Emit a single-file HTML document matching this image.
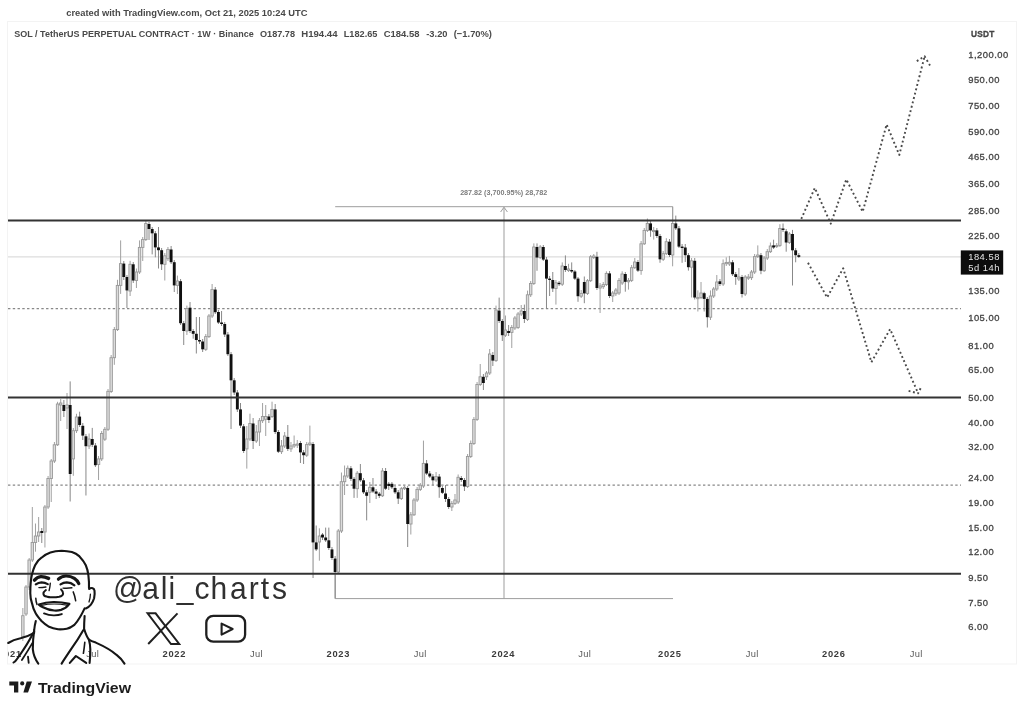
<!DOCTYPE html>
<html><head><meta charset="utf-8"><style>
html,body{margin:0;padding:0;width:1024px;height:710px;overflow:hidden;background:#fff;}
svg{position:absolute;left:0;top:0;display:block;}
text{font-family:"Liberation Sans",sans-serif;}
svg{will-change:transform;filter:blur(0.35px);}
</style></head><body>
<svg width="1024" height="710" viewBox="0 0 1024 710">
<defs><clipPath id="plot"><rect x="8" y="22" width="953" height="621"/></clipPath>
<clipPath id="taxis"><rect x="8" y="643" width="953" height="20"/></clipPath></defs>

<text x="66.2" y="15.8" font-size="9.4" font-weight="bold" fill="#484848" textLength="241.3" lengthAdjust="spacingAndGlyphs">created with TradingView.com, Oct 21, 2025 10:24 UTC</text>
<rect x="7.5" y="21.5" width="1009" height="642.5" fill="none" stroke="#f3f3f3" stroke-width="1"/>
<g font-size="9.6" font-weight="bold" fill="#4a4a4a">
<text x="14.25" y="37.1" textLength="239.5" lengthAdjust="spacingAndGlyphs">SOL / TetherUS PERPETUAL CONTRACT · 1W · Binance</text>
<text x="260" y="37.1" textLength="35" lengthAdjust="spacingAndGlyphs">O187.78</text>
<text x="301.25" y="37.1" textLength="36.25" lengthAdjust="spacingAndGlyphs">H194.44</text>
<text x="343.75" y="37.1" textLength="33.75" lengthAdjust="spacingAndGlyphs">L182.65</text>
<text x="383.75" y="37.1" textLength="35.75" lengthAdjust="spacingAndGlyphs">C184.58</text>
<text x="426.25" y="37.1" textLength="21.25" lengthAdjust="spacingAndGlyphs">-3.20</text>
<text x="453.75" y="37.1" textLength="38.25" lengthAdjust="spacingAndGlyphs">(−1.70%)</text>
</g>
<g clip-path="url(#plot)">
<line x1="8" y1="256.9" x2="961" y2="256.9" stroke="#d4d4d4" stroke-width="1"/>
<line x1="8" y1="308.6" x2="961" y2="308.6" stroke="#888" stroke-width="1.2" stroke-dasharray="2.4 2.36"/>
<line x1="8" y1="485.2" x2="961" y2="485.2" stroke="#888" stroke-width="1.2" stroke-dasharray="2.4 2.36"/>
<path d="M335.2 206.7 H672.7 V222 M335.2 575 V598.6 H673 M504 598.6 V207.5 M500.6 212 L504 207.2 L507.4 212" fill="none" stroke="#9d9d9d" stroke-width="1"/>
<text x="503.7" y="195.4" font-size="7.2" font-weight="bold" fill="#7c7c7c" text-anchor="middle">287.82 (3,700.95%) 28,782</text>
<line x1="22.85" y1="608.0" x2="22.85" y2="641.0" stroke="#a0a0a0" stroke-width="1"/>
<rect x="21.65" y="615.7" width="2.4" height="21.3" fill="#dcdcdc" stroke="#989898" stroke-width="0.9"/>
<line x1="26.01" y1="585.0" x2="26.01" y2="616.0" stroke="#a0a0a0" stroke-width="1"/>
<rect x="24.81" y="587.0" width="2.4" height="27.0" fill="#dcdcdc" stroke="#989898" stroke-width="0.9"/>
<line x1="29.16" y1="558.0" x2="29.16" y2="590.0" stroke="#a0a0a0" stroke-width="1"/>
<rect x="27.96" y="560.0" width="2.4" height="27.0" fill="#dcdcdc" stroke="#989898" stroke-width="0.9"/>
<line x1="32.32" y1="507.0" x2="32.32" y2="562.0" stroke="#a0a0a0" stroke-width="1"/>
<rect x="31.12" y="542.5" width="2.4" height="17.5" fill="#dcdcdc" stroke="#989898" stroke-width="0.9"/>
<line x1="35.47" y1="523.5" x2="35.47" y2="551.7" stroke="#a0a0a0" stroke-width="1"/>
<rect x="34.27" y="536.0" width="2.4" height="6.5" fill="#dcdcdc" stroke="#989898" stroke-width="0.9"/>
<line x1="38.63" y1="517.0" x2="38.63" y2="542.0" stroke="#a0a0a0" stroke-width="1"/>
<rect x="37.43" y="532.0" width="2.4" height="4.0" fill="#dcdcdc" stroke="#989898" stroke-width="0.9"/>
<line x1="41.78" y1="528.0" x2="41.78" y2="543.0" stroke="#888" stroke-width="1"/>
<rect x="40.33" y="531.0" width="2.90" height="2.0" fill="#101010"/>
<line x1="44.93" y1="505.0" x2="44.93" y2="547.5" stroke="#a0a0a0" stroke-width="1"/>
<rect x="43.73" y="507.0" width="2.4" height="25.0" fill="#dcdcdc" stroke="#989898" stroke-width="0.9"/>
<line x1="48.09" y1="476.0" x2="48.09" y2="509.0" stroke="#a0a0a0" stroke-width="1"/>
<rect x="46.89" y="478.5" width="2.4" height="28.5" fill="#dcdcdc" stroke="#989898" stroke-width="0.9"/>
<line x1="51.24" y1="459.0" x2="51.24" y2="502.0" stroke="#a0a0a0" stroke-width="1"/>
<rect x="50.04" y="461.0" width="2.4" height="17.5" fill="#dcdcdc" stroke="#989898" stroke-width="0.9"/>
<line x1="54.40" y1="442.0" x2="54.40" y2="463.0" stroke="#a0a0a0" stroke-width="1"/>
<rect x="53.20" y="444.8" width="2.4" height="16.2" fill="#dcdcdc" stroke="#989898" stroke-width="0.9"/>
<line x1="57.55" y1="401.8" x2="57.55" y2="446.0" stroke="#a0a0a0" stroke-width="1"/>
<rect x="56.35" y="404.0" width="2.4" height="40.8" fill="#dcdcdc" stroke="#989898" stroke-width="0.9"/>
<line x1="60.71" y1="399.0" x2="60.71" y2="421.0" stroke="#a0a0a0" stroke-width="1"/>
<rect x="59.51" y="403.0" width="2.4" height="2.0" fill="#dcdcdc" stroke="#989898" stroke-width="0.9"/>
<line x1="63.86" y1="400.0" x2="63.86" y2="417.0" stroke="#888" stroke-width="1"/>
<rect x="62.41" y="405.0" width="2.90" height="6.0" fill="#101010"/>
<line x1="67.01" y1="393.0" x2="67.01" y2="429.0" stroke="#a0a0a0" stroke-width="1"/>
<rect x="65.81" y="405.0" width="2.4" height="3.0" fill="#dcdcdc" stroke="#989898" stroke-width="0.9"/>
<line x1="70.17" y1="381.4" x2="70.17" y2="501.5" stroke="#888" stroke-width="1"/>
<rect x="68.72" y="405.0" width="2.90" height="69.0" fill="#101010"/>
<line x1="73.32" y1="428.0" x2="73.32" y2="475.8" stroke="#a0a0a0" stroke-width="1"/>
<rect x="72.12" y="430.7" width="2.4" height="28.2" fill="#dcdcdc" stroke="#989898" stroke-width="0.9"/>
<line x1="76.48" y1="413.8" x2="76.48" y2="433.0" stroke="#a0a0a0" stroke-width="1"/>
<rect x="75.28" y="417.0" width="2.4" height="13.7" fill="#dcdcdc" stroke="#989898" stroke-width="0.9"/>
<line x1="79.63" y1="411.7" x2="79.63" y2="427.0" stroke="#888" stroke-width="1"/>
<rect x="78.18" y="416.6" width="2.90" height="8.4" fill="#101010"/>
<line x1="82.79" y1="423.0" x2="82.79" y2="440.0" stroke="#888" stroke-width="1"/>
<rect x="81.34" y="425.8" width="2.90" height="9.8" fill="#101010"/>
<line x1="85.94" y1="434.0" x2="85.94" y2="495.5" stroke="#888" stroke-width="1"/>
<rect x="84.49" y="436.3" width="2.90" height="9.9" fill="#101010"/>
<line x1="89.09" y1="433.5" x2="89.09" y2="449.0" stroke="#a0a0a0" stroke-width="1"/>
<rect x="87.89" y="439.0" width="2.4" height="7.0" fill="#dcdcdc" stroke="#989898" stroke-width="0.9"/>
<line x1="92.25" y1="427.9" x2="92.25" y2="447.0" stroke="#888" stroke-width="1"/>
<rect x="90.80" y="439.0" width="2.90" height="5.8" fill="#101010"/>
<line x1="95.40" y1="443.0" x2="95.40" y2="467.0" stroke="#888" stroke-width="1"/>
<rect x="93.95" y="445.5" width="2.90" height="19.7" fill="#101010"/>
<line x1="98.56" y1="456.0" x2="98.56" y2="480.0" stroke="#a0a0a0" stroke-width="1"/>
<rect x="97.36" y="458.9" width="2.4" height="5.6" fill="#dcdcdc" stroke="#989898" stroke-width="0.9"/>
<line x1="101.71" y1="431.0" x2="101.71" y2="461.0" stroke="#a0a0a0" stroke-width="1"/>
<rect x="100.51" y="433.5" width="2.4" height="25.4" fill="#dcdcdc" stroke="#989898" stroke-width="0.9"/>
<line x1="104.87" y1="427.0" x2="104.87" y2="441.0" stroke="#a0a0a0" stroke-width="1"/>
<rect x="103.67" y="429.3" width="2.4" height="9.9" fill="#dcdcdc" stroke="#989898" stroke-width="0.9"/>
<line x1="108.02" y1="389.0" x2="108.02" y2="431.0" stroke="#a0a0a0" stroke-width="1"/>
<rect x="106.82" y="391.3" width="2.4" height="38.0" fill="#dcdcdc" stroke="#989898" stroke-width="0.9"/>
<line x1="111.17" y1="355.0" x2="111.17" y2="393.0" stroke="#a0a0a0" stroke-width="1"/>
<rect x="109.97" y="357.7" width="2.4" height="33.8" fill="#dcdcdc" stroke="#989898" stroke-width="0.9"/>
<line x1="114.33" y1="327.0" x2="114.33" y2="364.8" stroke="#a0a0a0" stroke-width="1"/>
<rect x="113.13" y="329.6" width="2.4" height="28.1" fill="#dcdcdc" stroke="#989898" stroke-width="0.9"/>
<line x1="117.48" y1="279.8" x2="117.48" y2="331.0" stroke="#a0a0a0" stroke-width="1"/>
<rect x="116.28" y="285.4" width="2.4" height="44.2" fill="#dcdcdc" stroke="#989898" stroke-width="0.9"/>
<line x1="120.64" y1="240.4" x2="120.64" y2="293.9" stroke="#a0a0a0" stroke-width="1"/>
<rect x="119.44" y="263.6" width="2.4" height="21.8" fill="#dcdcdc" stroke="#989898" stroke-width="0.9"/>
<line x1="123.79" y1="261.0" x2="123.79" y2="280.0" stroke="#888" stroke-width="1"/>
<rect x="122.34" y="263.6" width="2.90" height="13.4" fill="#101010"/>
<line x1="126.95" y1="275.0" x2="126.95" y2="308.0" stroke="#888" stroke-width="1"/>
<rect x="125.50" y="277.0" width="2.90" height="13.4" fill="#101010"/>
<line x1="130.10" y1="260.8" x2="130.10" y2="296.0" stroke="#a0a0a0" stroke-width="1"/>
<rect x="128.90" y="264.3" width="2.4" height="26.7" fill="#dcdcdc" stroke="#989898" stroke-width="0.9"/>
<line x1="133.25" y1="262.0" x2="133.25" y2="283.0" stroke="#888" stroke-width="1"/>
<rect x="131.80" y="264.3" width="2.90" height="16.2" fill="#101010"/>
<line x1="136.41" y1="268.5" x2="136.41" y2="288.0" stroke="#a0a0a0" stroke-width="1"/>
<rect x="135.21" y="272.0" width="2.4" height="8.5" fill="#dcdcdc" stroke="#989898" stroke-width="0.9"/>
<line x1="139.56" y1="240.4" x2="139.56" y2="274.0" stroke="#a0a0a0" stroke-width="1"/>
<rect x="138.36" y="247.4" width="2.4" height="24.6" fill="#dcdcdc" stroke="#989898" stroke-width="0.9"/>
<line x1="142.72" y1="237.0" x2="142.72" y2="261.0" stroke="#a0a0a0" stroke-width="1"/>
<rect x="141.52" y="239.6" width="2.4" height="7.8" fill="#dcdcdc" stroke="#989898" stroke-width="0.9"/>
<line x1="145.87" y1="220.6" x2="145.87" y2="241.0" stroke="#a0a0a0" stroke-width="1"/>
<rect x="144.67" y="223.5" width="2.4" height="16.1" fill="#dcdcdc" stroke="#989898" stroke-width="0.9"/>
<line x1="149.03" y1="222.0" x2="149.03" y2="240.0" stroke="#888" stroke-width="1"/>
<rect x="147.58" y="224.0" width="2.90" height="5.0" fill="#101010"/>
<line x1="152.18" y1="227.0" x2="152.18" y2="254.4" stroke="#888" stroke-width="1"/>
<rect x="150.73" y="229.0" width="2.90" height="4.3" fill="#101010"/>
<line x1="155.33" y1="231.0" x2="155.33" y2="257.3" stroke="#888" stroke-width="1"/>
<rect x="153.88" y="233.3" width="2.90" height="14.1" fill="#101010"/>
<line x1="158.49" y1="227.0" x2="158.49" y2="268.5" stroke="#888" stroke-width="1"/>
<rect x="157.04" y="247.4" width="2.90" height="2.8" fill="#101010"/>
<line x1="161.64" y1="248.0" x2="161.64" y2="270.0" stroke="#888" stroke-width="1"/>
<rect x="160.19" y="250.2" width="2.90" height="14.1" fill="#101010"/>
<line x1="164.80" y1="253.0" x2="164.80" y2="280.5" stroke="#a0a0a0" stroke-width="1"/>
<rect x="163.60" y="255.8" width="2.4" height="8.5" fill="#dcdcdc" stroke="#989898" stroke-width="0.9"/>
<line x1="167.95" y1="247.0" x2="167.95" y2="261.0" stroke="#a0a0a0" stroke-width="1"/>
<rect x="166.75" y="249.5" width="2.4" height="9.2" fill="#dcdcdc" stroke="#989898" stroke-width="0.9"/>
<line x1="171.11" y1="246.0" x2="171.11" y2="264.0" stroke="#888" stroke-width="1"/>
<rect x="169.66" y="249.5" width="2.90" height="12.7" fill="#101010"/>
<line x1="174.26" y1="260.0" x2="174.26" y2="292.0" stroke="#888" stroke-width="1"/>
<rect x="172.81" y="262.2" width="2.90" height="23.2" fill="#101010"/>
<line x1="177.41" y1="275.6" x2="177.41" y2="294.0" stroke="#a0a0a0" stroke-width="1"/>
<rect x="176.21" y="281.0" width="2.4" height="4.4" fill="#dcdcdc" stroke="#989898" stroke-width="0.9"/>
<line x1="180.57" y1="279.0" x2="180.57" y2="325.0" stroke="#888" stroke-width="1"/>
<rect x="179.12" y="281.2" width="2.90" height="42.0" fill="#101010"/>
<line x1="183.72" y1="321.0" x2="183.72" y2="345.0" stroke="#888" stroke-width="1"/>
<rect x="182.27" y="323.2" width="2.90" height="7.8" fill="#101010"/>
<line x1="186.88" y1="305.6" x2="186.88" y2="335.0" stroke="#a0a0a0" stroke-width="1"/>
<rect x="185.68" y="308.5" width="2.4" height="22.5" fill="#dcdcdc" stroke="#989898" stroke-width="0.9"/>
<line x1="190.03" y1="302.0" x2="190.03" y2="333.0" stroke="#888" stroke-width="1"/>
<rect x="188.58" y="307.7" width="2.90" height="23.3" fill="#101010"/>
<line x1="193.19" y1="329.0" x2="193.19" y2="338.7" stroke="#888" stroke-width="1"/>
<rect x="191.74" y="331.0" width="2.90" height="2.8" fill="#101010"/>
<line x1="196.34" y1="317.0" x2="196.34" y2="353.5" stroke="#888" stroke-width="1"/>
<rect x="194.89" y="333.8" width="2.90" height="6.2" fill="#101010"/>
<line x1="199.49" y1="317.0" x2="199.49" y2="344.0" stroke="#888" stroke-width="1"/>
<rect x="198.04" y="340.0" width="2.90" height="1.5" fill="#101010"/>
<line x1="202.65" y1="339.0" x2="202.65" y2="352.0" stroke="#888" stroke-width="1"/>
<rect x="201.20" y="341.5" width="2.90" height="7.8" fill="#101010"/>
<line x1="205.80" y1="334.0" x2="205.80" y2="351.0" stroke="#a0a0a0" stroke-width="1"/>
<rect x="204.60" y="336.6" width="2.4" height="12.7" fill="#dcdcdc" stroke="#989898" stroke-width="0.9"/>
<line x1="208.96" y1="314.0" x2="208.96" y2="338.0" stroke="#a0a0a0" stroke-width="1"/>
<rect x="207.76" y="316.0" width="2.4" height="20.6" fill="#dcdcdc" stroke="#989898" stroke-width="0.9"/>
<line x1="212.11" y1="284.0" x2="212.11" y2="318.0" stroke="#a0a0a0" stroke-width="1"/>
<rect x="210.91" y="289.6" width="2.4" height="26.4" fill="#dcdcdc" stroke="#989898" stroke-width="0.9"/>
<line x1="215.27" y1="287.0" x2="215.27" y2="314.0" stroke="#888" stroke-width="1"/>
<rect x="213.82" y="289.6" width="2.90" height="22.6" fill="#101010"/>
<line x1="218.42" y1="310.0" x2="218.42" y2="324.0" stroke="#888" stroke-width="1"/>
<rect x="216.97" y="312.0" width="2.90" height="10.5" fill="#101010"/>
<line x1="221.57" y1="311.0" x2="221.57" y2="326.0" stroke="#888" stroke-width="1"/>
<rect x="220.12" y="322.5" width="2.90" height="1.5" fill="#101010"/>
<line x1="224.73" y1="322.0" x2="224.73" y2="337.0" stroke="#888" stroke-width="1"/>
<rect x="223.28" y="324.0" width="2.90" height="10.5" fill="#101010"/>
<line x1="227.88" y1="332.0" x2="227.88" y2="356.0" stroke="#888" stroke-width="1"/>
<rect x="226.43" y="334.5" width="2.90" height="19.7" fill="#101010"/>
<line x1="231.04" y1="352.0" x2="231.04" y2="429.0" stroke="#888" stroke-width="1"/>
<rect x="229.59" y="354.2" width="2.90" height="26.1" fill="#101010"/>
<line x1="234.19" y1="378.0" x2="234.19" y2="395.0" stroke="#888" stroke-width="1"/>
<rect x="232.74" y="380.3" width="2.90" height="12.2" fill="#101010"/>
<line x1="237.35" y1="390.0" x2="237.35" y2="412.0" stroke="#888" stroke-width="1"/>
<rect x="235.90" y="392.5" width="2.90" height="16.9" fill="#101010"/>
<line x1="240.50" y1="403.0" x2="240.50" y2="428.0" stroke="#888" stroke-width="1"/>
<rect x="239.05" y="409.4" width="2.90" height="16.2" fill="#101010"/>
<line x1="243.65" y1="424.0" x2="243.65" y2="453.0" stroke="#888" stroke-width="1"/>
<rect x="242.20" y="426.3" width="2.90" height="24.7" fill="#101010"/>
<line x1="246.81" y1="426.0" x2="246.81" y2="468.6" stroke="#a0a0a0" stroke-width="1"/>
<rect x="245.61" y="439.0" width="2.4" height="9.9" fill="#dcdcdc" stroke="#989898" stroke-width="0.9"/>
<line x1="249.96" y1="413.7" x2="249.96" y2="441.0" stroke="#a0a0a0" stroke-width="1"/>
<rect x="248.76" y="423.5" width="2.4" height="15.5" fill="#dcdcdc" stroke="#989898" stroke-width="0.9"/>
<line x1="253.12" y1="418.0" x2="253.12" y2="449.0" stroke="#888" stroke-width="1"/>
<rect x="251.67" y="423.5" width="2.90" height="17.5" fill="#101010"/>
<line x1="256.27" y1="425.0" x2="256.27" y2="443.0" stroke="#a0a0a0" stroke-width="1"/>
<rect x="255.07" y="432.0" width="2.4" height="9.0" fill="#dcdcdc" stroke="#989898" stroke-width="0.9"/>
<line x1="259.43" y1="418.0" x2="259.43" y2="446.0" stroke="#a0a0a0" stroke-width="1"/>
<rect x="258.23" y="420.7" width="2.4" height="11.3" fill="#dcdcdc" stroke="#989898" stroke-width="0.9"/>
<line x1="262.58" y1="403.0" x2="262.58" y2="423.0" stroke="#a0a0a0" stroke-width="1"/>
<rect x="261.38" y="416.5" width="2.4" height="4.2" fill="#dcdcdc" stroke="#989898" stroke-width="0.9"/>
<line x1="265.73" y1="405.0" x2="265.73" y2="436.0" stroke="#a0a0a0" stroke-width="1"/>
<rect x="264.53" y="416.5" width="2.4" height="2.8" fill="#dcdcdc" stroke="#989898" stroke-width="0.9"/>
<line x1="268.89" y1="414.0" x2="268.89" y2="423.0" stroke="#888" stroke-width="1"/>
<rect x="267.44" y="416.5" width="2.90" height="3.5" fill="#101010"/>
<line x1="272.04" y1="401.7" x2="272.04" y2="418.0" stroke="#a0a0a0" stroke-width="1"/>
<rect x="270.84" y="409.4" width="2.4" height="7.1" fill="#dcdcdc" stroke="#989898" stroke-width="0.9"/>
<line x1="275.20" y1="404.0" x2="275.20" y2="434.0" stroke="#888" stroke-width="1"/>
<rect x="273.75" y="409.4" width="2.90" height="22.6" fill="#101010"/>
<line x1="278.35" y1="430.0" x2="278.35" y2="453.0" stroke="#888" stroke-width="1"/>
<rect x="276.90" y="432.0" width="2.90" height="19.7" fill="#101010"/>
<line x1="281.51" y1="440.0" x2="281.51" y2="454.0" stroke="#a0a0a0" stroke-width="1"/>
<rect x="280.31" y="446.0" width="2.4" height="5.7" fill="#dcdcdc" stroke="#989898" stroke-width="0.9"/>
<line x1="284.66" y1="432.0" x2="284.66" y2="448.0" stroke="#a0a0a0" stroke-width="1"/>
<rect x="283.46" y="436.0" width="2.4" height="10.0" fill="#dcdcdc" stroke="#989898" stroke-width="0.9"/>
<line x1="287.81" y1="425.0" x2="287.81" y2="451.0" stroke="#888" stroke-width="1"/>
<rect x="286.36" y="436.9" width="2.90" height="12.0" fill="#101010"/>
<line x1="290.97" y1="442.0" x2="290.97" y2="452.0" stroke="#a0a0a0" stroke-width="1"/>
<rect x="289.77" y="446.0" width="2.4" height="2.9" fill="#dcdcdc" stroke="#989898" stroke-width="0.9"/>
<line x1="294.12" y1="435.5" x2="294.12" y2="448.0" stroke="#a0a0a0" stroke-width="1"/>
<rect x="292.92" y="444.6" width="2.4" height="1.4" fill="#dcdcdc" stroke="#989898" stroke-width="0.9"/>
<line x1="297.28" y1="440.0" x2="297.28" y2="448.0" stroke="#a0a0a0" stroke-width="1"/>
<rect x="296.08" y="444.0" width="2.4" height="1.2" fill="#dcdcdc" stroke="#989898" stroke-width="0.9"/>
<line x1="300.43" y1="441.0" x2="300.43" y2="463.0" stroke="#888" stroke-width="1"/>
<rect x="298.98" y="443.0" width="2.90" height="9.4" fill="#101010"/>
<line x1="303.59" y1="450.0" x2="303.59" y2="464.0" stroke="#888" stroke-width="1"/>
<rect x="302.14" y="452.4" width="2.90" height="2.8" fill="#101010"/>
<line x1="306.74" y1="442.0" x2="306.74" y2="457.0" stroke="#a0a0a0" stroke-width="1"/>
<rect x="305.54" y="444.6" width="2.4" height="10.6" fill="#dcdcdc" stroke="#989898" stroke-width="0.9"/>
<line x1="309.89" y1="425.6" x2="309.89" y2="446.0" stroke="#a0a0a0" stroke-width="1"/>
<rect x="308.69" y="443.0" width="2.4" height="1.6" fill="#dcdcdc" stroke="#989898" stroke-width="0.9"/>
<line x1="313.05" y1="442.0" x2="313.05" y2="578.0" stroke="#888" stroke-width="1"/>
<rect x="311.60" y="444.0" width="2.90" height="98.4" fill="#101010"/>
<line x1="316.20" y1="525.5" x2="316.20" y2="551.0" stroke="#888" stroke-width="1"/>
<rect x="314.75" y="542.4" width="2.90" height="7.0" fill="#101010"/>
<line x1="319.36" y1="528.3" x2="319.36" y2="560.7" stroke="#a0a0a0" stroke-width="1"/>
<rect x="318.16" y="536.0" width="2.4" height="6.0" fill="#dcdcdc" stroke="#989898" stroke-width="0.9"/>
<line x1="322.51" y1="533.0" x2="322.51" y2="540.0" stroke="#888" stroke-width="1"/>
<rect x="321.06" y="534.6" width="2.90" height="2.9" fill="#101010"/>
<line x1="325.67" y1="527.6" x2="325.67" y2="542.0" stroke="#888" stroke-width="1"/>
<rect x="324.22" y="537.5" width="2.90" height="2.8" fill="#101010"/>
<line x1="328.82" y1="527.6" x2="328.82" y2="550.0" stroke="#888" stroke-width="1"/>
<rect x="327.37" y="540.3" width="2.90" height="7.7" fill="#101010"/>
<line x1="331.98" y1="547.0" x2="331.98" y2="560.0" stroke="#888" stroke-width="1"/>
<rect x="330.53" y="549.4" width="2.90" height="8.6" fill="#101010"/>
<line x1="335.13" y1="556.0" x2="335.13" y2="598.6" stroke="#888" stroke-width="1"/>
<rect x="333.68" y="558.6" width="2.90" height="13.4" fill="#101010"/>
<line x1="338.28" y1="529.0" x2="338.28" y2="574.0" stroke="#a0a0a0" stroke-width="1"/>
<rect x="337.08" y="531.0" width="2.4" height="41.0" fill="#dcdcdc" stroke="#989898" stroke-width="0.9"/>
<line x1="341.44" y1="472.5" x2="341.44" y2="533.0" stroke="#a0a0a0" stroke-width="1"/>
<rect x="340.24" y="481.7" width="2.4" height="49.3" fill="#dcdcdc" stroke="#989898" stroke-width="0.9"/>
<line x1="344.59" y1="465.5" x2="344.59" y2="495.0" stroke="#a0a0a0" stroke-width="1"/>
<rect x="343.39" y="476.0" width="2.4" height="5.7" fill="#dcdcdc" stroke="#989898" stroke-width="0.9"/>
<line x1="347.75" y1="465.5" x2="347.75" y2="478.0" stroke="#a0a0a0" stroke-width="1"/>
<rect x="346.55" y="468.3" width="2.4" height="7.7" fill="#dcdcdc" stroke="#989898" stroke-width="0.9"/>
<line x1="350.90" y1="466.0" x2="350.90" y2="481.0" stroke="#888" stroke-width="1"/>
<rect x="349.45" y="468.3" width="2.90" height="10.6" fill="#101010"/>
<line x1="354.06" y1="477.0" x2="354.06" y2="497.9" stroke="#888" stroke-width="1"/>
<rect x="352.61" y="478.9" width="2.90" height="9.8" fill="#101010"/>
<line x1="357.21" y1="471.0" x2="357.21" y2="497.9" stroke="#a0a0a0" stroke-width="1"/>
<rect x="356.01" y="473.2" width="2.4" height="15.5" fill="#dcdcdc" stroke="#989898" stroke-width="0.9"/>
<line x1="360.36" y1="464.0" x2="360.36" y2="482.0" stroke="#888" stroke-width="1"/>
<rect x="358.91" y="473.2" width="2.90" height="7.1" fill="#101010"/>
<line x1="363.52" y1="478.0" x2="363.52" y2="494.0" stroke="#888" stroke-width="1"/>
<rect x="362.07" y="480.3" width="2.90" height="12.0" fill="#101010"/>
<line x1="366.67" y1="490.0" x2="366.67" y2="520.4" stroke="#888" stroke-width="1"/>
<rect x="365.22" y="492.3" width="2.90" height="3.5" fill="#101010"/>
<line x1="369.83" y1="482.0" x2="369.83" y2="503.0" stroke="#a0a0a0" stroke-width="1"/>
<rect x="368.63" y="487.3" width="2.4" height="5.0" fill="#dcdcdc" stroke="#989898" stroke-width="0.9"/>
<line x1="372.98" y1="478.0" x2="372.98" y2="493.0" stroke="#888" stroke-width="1"/>
<rect x="371.53" y="487.3" width="2.90" height="4.2" fill="#101010"/>
<line x1="376.14" y1="489.0" x2="376.14" y2="499.0" stroke="#888" stroke-width="1"/>
<rect x="374.69" y="491.5" width="2.90" height="2.2" fill="#101010"/>
<line x1="379.29" y1="492.0" x2="379.29" y2="498.0" stroke="#888" stroke-width="1"/>
<rect x="377.84" y="493.7" width="2.90" height="2.1" fill="#101010"/>
<line x1="382.44" y1="468.0" x2="382.44" y2="497.0" stroke="#a0a0a0" stroke-width="1"/>
<rect x="381.24" y="471.0" width="2.4" height="24.8" fill="#dcdcdc" stroke="#989898" stroke-width="0.9"/>
<line x1="385.60" y1="468.0" x2="385.60" y2="490.0" stroke="#888" stroke-width="1"/>
<rect x="384.15" y="471.0" width="2.90" height="17.7" fill="#101010"/>
<line x1="388.75" y1="482.0" x2="388.75" y2="490.0" stroke="#888" stroke-width="1"/>
<rect x="387.30" y="483.8" width="2.90" height="2.2" fill="#101010"/>
<line x1="391.91" y1="482.0" x2="391.91" y2="489.0" stroke="#888" stroke-width="1"/>
<rect x="390.46" y="483.8" width="2.90" height="3.5" fill="#101010"/>
<line x1="395.06" y1="486.0" x2="395.06" y2="494.0" stroke="#888" stroke-width="1"/>
<rect x="393.61" y="488.0" width="2.90" height="4.3" fill="#101010"/>
<line x1="398.22" y1="490.0" x2="398.22" y2="504.0" stroke="#888" stroke-width="1"/>
<rect x="396.77" y="492.3" width="2.90" height="6.3" fill="#101010"/>
<line x1="401.37" y1="487.0" x2="401.37" y2="500.0" stroke="#a0a0a0" stroke-width="1"/>
<rect x="400.17" y="488.7" width="2.4" height="9.9" fill="#dcdcdc" stroke="#989898" stroke-width="0.9"/>
<line x1="404.52" y1="485.0" x2="404.52" y2="490.0" stroke="#a0a0a0" stroke-width="1"/>
<rect x="403.32" y="487.3" width="2.4" height="1.4" fill="#dcdcdc" stroke="#989898" stroke-width="0.9"/>
<line x1="407.68" y1="486.0" x2="407.68" y2="547.0" stroke="#888" stroke-width="1"/>
<rect x="406.23" y="488.0" width="2.90" height="36.0" fill="#101010"/>
<line x1="410.83" y1="512.0" x2="410.83" y2="534.5" stroke="#a0a0a0" stroke-width="1"/>
<rect x="409.63" y="514.8" width="2.4" height="9.2" fill="#dcdcdc" stroke="#989898" stroke-width="0.9"/>
<line x1="413.99" y1="498.0" x2="413.99" y2="516.0" stroke="#a0a0a0" stroke-width="1"/>
<rect x="412.79" y="500.0" width="2.4" height="14.8" fill="#dcdcdc" stroke="#989898" stroke-width="0.9"/>
<line x1="417.14" y1="487.0" x2="417.14" y2="502.0" stroke="#a0a0a0" stroke-width="1"/>
<rect x="415.94" y="489.4" width="2.4" height="10.6" fill="#dcdcdc" stroke="#989898" stroke-width="0.9"/>
<line x1="420.30" y1="483.0" x2="420.30" y2="491.0" stroke="#a0a0a0" stroke-width="1"/>
<rect x="419.10" y="485.2" width="2.4" height="4.2" fill="#dcdcdc" stroke="#989898" stroke-width="0.9"/>
<line x1="423.45" y1="440.6" x2="423.45" y2="488.0" stroke="#a0a0a0" stroke-width="1"/>
<rect x="422.25" y="463.4" width="2.4" height="22.6" fill="#dcdcdc" stroke="#989898" stroke-width="0.9"/>
<line x1="426.60" y1="460.0" x2="426.60" y2="475.0" stroke="#888" stroke-width="1"/>
<rect x="425.15" y="463.4" width="2.90" height="10.1" fill="#101010"/>
<line x1="429.76" y1="471.0" x2="429.76" y2="478.0" stroke="#888" stroke-width="1"/>
<rect x="428.31" y="473.5" width="2.90" height="3.0" fill="#101010"/>
<line x1="432.91" y1="474.0" x2="432.91" y2="485.0" stroke="#888" stroke-width="1"/>
<rect x="431.46" y="476.5" width="2.90" height="3.8" fill="#101010"/>
<line x1="436.07" y1="472.0" x2="436.07" y2="482.0" stroke="#a0a0a0" stroke-width="1"/>
<rect x="434.87" y="476.6" width="2.4" height="3.4" fill="#dcdcdc" stroke="#989898" stroke-width="0.9"/>
<line x1="439.22" y1="474.0" x2="439.22" y2="497.8" stroke="#888" stroke-width="1"/>
<rect x="437.77" y="476.6" width="2.90" height="10.6" fill="#101010"/>
<line x1="442.38" y1="486.0" x2="442.38" y2="494.0" stroke="#888" stroke-width="1"/>
<rect x="440.93" y="488.0" width="2.90" height="4.8" fill="#101010"/>
<line x1="445.53" y1="485.0" x2="445.53" y2="502.0" stroke="#888" stroke-width="1"/>
<rect x="444.08" y="493.5" width="2.90" height="5.5" fill="#101010"/>
<line x1="448.68" y1="497.0" x2="448.68" y2="509.0" stroke="#888" stroke-width="1"/>
<rect x="447.23" y="499.0" width="2.90" height="8.0" fill="#101010"/>
<line x1="451.84" y1="501.0" x2="451.84" y2="511.0" stroke="#a0a0a0" stroke-width="1"/>
<rect x="450.64" y="503.4" width="2.4" height="3.6" fill="#dcdcdc" stroke="#989898" stroke-width="0.9"/>
<line x1="454.99" y1="494.0" x2="454.99" y2="505.0" stroke="#a0a0a0" stroke-width="1"/>
<rect x="453.79" y="500.0" width="2.4" height="3.4" fill="#dcdcdc" stroke="#989898" stroke-width="0.9"/>
<line x1="458.15" y1="474.5" x2="458.15" y2="504.0" stroke="#a0a0a0" stroke-width="1"/>
<rect x="456.95" y="477.3" width="2.4" height="24.7" fill="#dcdcdc" stroke="#989898" stroke-width="0.9"/>
<line x1="461.30" y1="476.0" x2="461.30" y2="482.0" stroke="#888" stroke-width="1"/>
<rect x="459.85" y="478.0" width="2.90" height="2.0" fill="#101010"/>
<line x1="464.46" y1="478.0" x2="464.46" y2="491.0" stroke="#888" stroke-width="1"/>
<rect x="463.01" y="480.0" width="2.90" height="6.5" fill="#101010"/>
<line x1="467.61" y1="454.0" x2="467.61" y2="488.0" stroke="#a0a0a0" stroke-width="1"/>
<rect x="466.41" y="456.5" width="2.4" height="30.0" fill="#dcdcdc" stroke="#989898" stroke-width="0.9"/>
<line x1="470.76" y1="440.5" x2="470.76" y2="458.0" stroke="#a0a0a0" stroke-width="1"/>
<rect x="469.56" y="443.5" width="2.4" height="13.0" fill="#dcdcdc" stroke="#989898" stroke-width="0.9"/>
<line x1="473.92" y1="417.0" x2="473.92" y2="445.0" stroke="#a0a0a0" stroke-width="1"/>
<rect x="472.72" y="419.4" width="2.4" height="24.1" fill="#dcdcdc" stroke="#989898" stroke-width="0.9"/>
<line x1="477.07" y1="382.0" x2="477.07" y2="421.0" stroke="#a0a0a0" stroke-width="1"/>
<rect x="475.87" y="384.5" width="2.4" height="34.9" fill="#dcdcdc" stroke="#989898" stroke-width="0.9"/>
<line x1="480.23" y1="364.0" x2="480.23" y2="386.0" stroke="#a0a0a0" stroke-width="1"/>
<rect x="479.03" y="376.8" width="2.4" height="7.7" fill="#dcdcdc" stroke="#989898" stroke-width="0.9"/>
<line x1="483.38" y1="374.0" x2="483.38" y2="390.0" stroke="#888" stroke-width="1"/>
<rect x="481.93" y="376.8" width="2.90" height="6.2" fill="#101010"/>
<line x1="486.54" y1="371.0" x2="486.54" y2="380.0" stroke="#a0a0a0" stroke-width="1"/>
<rect x="485.34" y="373.0" width="2.4" height="3.8" fill="#dcdcdc" stroke="#989898" stroke-width="0.9"/>
<line x1="489.69" y1="349.0" x2="489.69" y2="375.0" stroke="#a0a0a0" stroke-width="1"/>
<rect x="488.49" y="354.0" width="2.4" height="19.0" fill="#dcdcdc" stroke="#989898" stroke-width="0.9"/>
<line x1="492.84" y1="352.0" x2="492.84" y2="366.0" stroke="#888" stroke-width="1"/>
<rect x="491.39" y="355.0" width="2.90" height="5.6" fill="#101010"/>
<line x1="496.00" y1="305.6" x2="496.00" y2="362.0" stroke="#a0a0a0" stroke-width="1"/>
<rect x="494.80" y="310.0" width="2.4" height="50.6" fill="#dcdcdc" stroke="#989898" stroke-width="0.9"/>
<line x1="499.15" y1="297.6" x2="499.15" y2="323.0" stroke="#888" stroke-width="1"/>
<rect x="497.70" y="310.6" width="2.90" height="10.4" fill="#101010"/>
<line x1="502.31" y1="319.0" x2="502.31" y2="341.0" stroke="#888" stroke-width="1"/>
<rect x="500.86" y="321.0" width="2.90" height="14.2" fill="#101010"/>
<line x1="505.46" y1="315.5" x2="505.46" y2="337.0" stroke="#a0a0a0" stroke-width="1"/>
<rect x="504.26" y="330.0" width="2.4" height="5.2" fill="#dcdcdc" stroke="#989898" stroke-width="0.9"/>
<line x1="508.62" y1="325.0" x2="508.62" y2="336.0" stroke="#888" stroke-width="1"/>
<rect x="507.17" y="331.0" width="2.90" height="2.0" fill="#101010"/>
<line x1="511.77" y1="325.0" x2="511.77" y2="348.0" stroke="#a0a0a0" stroke-width="1"/>
<rect x="510.57" y="327.5" width="2.4" height="4.9" fill="#dcdcdc" stroke="#989898" stroke-width="0.9"/>
<line x1="514.92" y1="316.0" x2="514.92" y2="330.0" stroke="#a0a0a0" stroke-width="1"/>
<rect x="513.72" y="318.0" width="2.4" height="10.0" fill="#dcdcdc" stroke="#989898" stroke-width="0.9"/>
<line x1="518.08" y1="312.0" x2="518.08" y2="329.0" stroke="#a0a0a0" stroke-width="1"/>
<rect x="516.88" y="314.0" width="2.4" height="13.5" fill="#dcdcdc" stroke="#989898" stroke-width="0.9"/>
<line x1="521.23" y1="305.0" x2="521.23" y2="316.0" stroke="#a0a0a0" stroke-width="1"/>
<rect x="520.03" y="311.0" width="2.4" height="3.0" fill="#dcdcdc" stroke="#989898" stroke-width="0.9"/>
<line x1="524.39" y1="304.6" x2="524.39" y2="323.0" stroke="#888" stroke-width="1"/>
<rect x="522.94" y="311.0" width="2.90" height="8.0" fill="#101010"/>
<line x1="527.54" y1="290.6" x2="527.54" y2="321.0" stroke="#a0a0a0" stroke-width="1"/>
<rect x="526.34" y="294.8" width="2.4" height="24.6" fill="#dcdcdc" stroke="#989898" stroke-width="0.9"/>
<line x1="530.70" y1="281.0" x2="530.70" y2="297.0" stroke="#a0a0a0" stroke-width="1"/>
<rect x="529.50" y="283.5" width="2.4" height="11.3" fill="#dcdcdc" stroke="#989898" stroke-width="0.9"/>
<line x1="533.85" y1="243.4" x2="533.85" y2="285.0" stroke="#a0a0a0" stroke-width="1"/>
<rect x="532.65" y="247.0" width="2.4" height="36.5" fill="#dcdcdc" stroke="#989898" stroke-width="0.9"/>
<line x1="537.00" y1="243.4" x2="537.00" y2="270.8" stroke="#888" stroke-width="1"/>
<rect x="535.55" y="247.0" width="2.90" height="10.5" fill="#101010"/>
<line x1="540.16" y1="245.0" x2="540.16" y2="259.0" stroke="#a0a0a0" stroke-width="1"/>
<rect x="538.96" y="247.0" width="2.4" height="10.5" fill="#dcdcdc" stroke="#989898" stroke-width="0.9"/>
<line x1="543.31" y1="245.0" x2="543.31" y2="261.0" stroke="#888" stroke-width="1"/>
<rect x="541.86" y="247.0" width="2.90" height="12.6" fill="#101010"/>
<line x1="546.47" y1="257.0" x2="546.47" y2="308.9" stroke="#888" stroke-width="1"/>
<rect x="545.02" y="259.6" width="2.90" height="19.0" fill="#101010"/>
<line x1="549.62" y1="276.0" x2="549.62" y2="296.0" stroke="#888" stroke-width="1"/>
<rect x="548.17" y="278.6" width="2.90" height="1.4" fill="#101010"/>
<line x1="552.78" y1="272.0" x2="552.78" y2="292.0" stroke="#888" stroke-width="1"/>
<rect x="551.33" y="280.0" width="2.90" height="8.5" fill="#101010"/>
<line x1="555.93" y1="280.0" x2="555.93" y2="304.6" stroke="#a0a0a0" stroke-width="1"/>
<rect x="554.73" y="282.8" width="2.4" height="5.7" fill="#dcdcdc" stroke="#989898" stroke-width="0.9"/>
<line x1="559.08" y1="281.0" x2="559.08" y2="286.0" stroke="#888" stroke-width="1"/>
<rect x="557.63" y="282.8" width="2.90" height="1.4" fill="#101010"/>
<line x1="562.24" y1="262.4" x2="562.24" y2="286.0" stroke="#a0a0a0" stroke-width="1"/>
<rect x="561.04" y="266.0" width="2.4" height="18.2" fill="#dcdcdc" stroke="#989898" stroke-width="0.9"/>
<line x1="565.39" y1="255.4" x2="565.39" y2="272.0" stroke="#888" stroke-width="1"/>
<rect x="563.94" y="266.0" width="2.90" height="4.0" fill="#101010"/>
<line x1="568.55" y1="263.8" x2="568.55" y2="272.0" stroke="#a0a0a0" stroke-width="1"/>
<rect x="567.35" y="269.0" width="2.4" height="1.5" fill="#dcdcdc" stroke="#989898" stroke-width="0.9"/>
<line x1="571.70" y1="262.4" x2="571.70" y2="273.0" stroke="#888" stroke-width="1"/>
<rect x="570.25" y="270.0" width="2.90" height="1.5" fill="#101010"/>
<line x1="574.86" y1="270.0" x2="574.86" y2="280.0" stroke="#888" stroke-width="1"/>
<rect x="573.41" y="271.5" width="2.90" height="7.1" fill="#101010"/>
<line x1="578.01" y1="277.0" x2="578.01" y2="301.8" stroke="#888" stroke-width="1"/>
<rect x="576.56" y="278.6" width="2.90" height="17.6" fill="#101010"/>
<line x1="581.16" y1="290.0" x2="581.16" y2="298.0" stroke="#a0a0a0" stroke-width="1"/>
<rect x="579.96" y="293.4" width="2.4" height="2.8" fill="#dcdcdc" stroke="#989898" stroke-width="0.9"/>
<line x1="584.32" y1="276.5" x2="584.32" y2="303.2" stroke="#888" stroke-width="1"/>
<rect x="582.87" y="282.0" width="2.90" height="11.4" fill="#101010"/>
<line x1="587.47" y1="279.0" x2="587.47" y2="295.0" stroke="#a0a0a0" stroke-width="1"/>
<rect x="586.27" y="280.7" width="2.4" height="12.7" fill="#dcdcdc" stroke="#989898" stroke-width="0.9"/>
<line x1="590.63" y1="255.0" x2="590.63" y2="282.0" stroke="#a0a0a0" stroke-width="1"/>
<rect x="589.43" y="256.8" width="2.4" height="23.9" fill="#dcdcdc" stroke="#989898" stroke-width="0.9"/>
<line x1="593.78" y1="254.0" x2="593.78" y2="259.0" stroke="#a0a0a0" stroke-width="1"/>
<rect x="592.58" y="256.0" width="2.4" height="1.5" fill="#dcdcdc" stroke="#989898" stroke-width="0.9"/>
<line x1="596.94" y1="251.8" x2="596.94" y2="290.0" stroke="#888" stroke-width="1"/>
<rect x="595.49" y="256.8" width="2.90" height="31.2" fill="#101010"/>
<line x1="600.09" y1="283.0" x2="600.09" y2="313.0" stroke="#a0a0a0" stroke-width="1"/>
<rect x="598.89" y="286.0" width="2.4" height="2.0" fill="#dcdcdc" stroke="#989898" stroke-width="0.9"/>
<line x1="603.24" y1="282.0" x2="603.24" y2="289.0" stroke="#a0a0a0" stroke-width="1"/>
<rect x="602.04" y="284.6" width="2.4" height="2.1" fill="#dcdcdc" stroke="#989898" stroke-width="0.9"/>
<line x1="606.40" y1="271.3" x2="606.40" y2="286.0" stroke="#a0a0a0" stroke-width="1"/>
<rect x="605.20" y="273.4" width="2.4" height="11.2" fill="#dcdcdc" stroke="#989898" stroke-width="0.9"/>
<line x1="609.55" y1="271.0" x2="609.55" y2="298.0" stroke="#888" stroke-width="1"/>
<rect x="608.10" y="273.4" width="2.90" height="22.6" fill="#101010"/>
<line x1="612.71" y1="291.0" x2="612.71" y2="302.0" stroke="#a0a0a0" stroke-width="1"/>
<rect x="611.51" y="293.0" width="2.4" height="3.0" fill="#dcdcdc" stroke="#989898" stroke-width="0.9"/>
<line x1="615.86" y1="288.0" x2="615.86" y2="296.0" stroke="#a0a0a0" stroke-width="1"/>
<rect x="614.66" y="290.0" width="2.4" height="3.8" fill="#dcdcdc" stroke="#989898" stroke-width="0.9"/>
<line x1="619.02" y1="278.0" x2="619.02" y2="295.0" stroke="#a0a0a0" stroke-width="1"/>
<rect x="617.82" y="280.4" width="2.4" height="12.6" fill="#dcdcdc" stroke="#989898" stroke-width="0.9"/>
<line x1="622.17" y1="271.3" x2="622.17" y2="285.0" stroke="#a0a0a0" stroke-width="1"/>
<rect x="620.97" y="274.0" width="2.4" height="9.0" fill="#dcdcdc" stroke="#989898" stroke-width="0.9"/>
<line x1="625.32" y1="272.0" x2="625.32" y2="291.7" stroke="#888" stroke-width="1"/>
<rect x="623.87" y="274.0" width="2.90" height="7.8" fill="#101010"/>
<line x1="628.48" y1="278.0" x2="628.48" y2="289.6" stroke="#a0a0a0" stroke-width="1"/>
<rect x="627.28" y="280.4" width="2.4" height="1.4" fill="#dcdcdc" stroke="#989898" stroke-width="0.9"/>
<line x1="631.63" y1="265.0" x2="631.63" y2="282.0" stroke="#a0a0a0" stroke-width="1"/>
<rect x="630.43" y="267.7" width="2.4" height="12.7" fill="#dcdcdc" stroke="#989898" stroke-width="0.9"/>
<line x1="634.79" y1="258.0" x2="634.79" y2="269.0" stroke="#a0a0a0" stroke-width="1"/>
<rect x="633.59" y="262.0" width="2.4" height="5.7" fill="#dcdcdc" stroke="#989898" stroke-width="0.9"/>
<line x1="637.94" y1="260.0" x2="637.94" y2="272.0" stroke="#888" stroke-width="1"/>
<rect x="636.49" y="262.0" width="2.90" height="8.6" fill="#101010"/>
<line x1="641.10" y1="241.0" x2="641.10" y2="274.8" stroke="#a0a0a0" stroke-width="1"/>
<rect x="639.90" y="243.8" width="2.4" height="26.8" fill="#dcdcdc" stroke="#989898" stroke-width="0.9"/>
<line x1="644.25" y1="228.0" x2="644.25" y2="245.0" stroke="#a0a0a0" stroke-width="1"/>
<rect x="643.05" y="230.4" width="2.4" height="13.4" fill="#dcdcdc" stroke="#989898" stroke-width="0.9"/>
<line x1="647.40" y1="218.5" x2="647.40" y2="232.0" stroke="#a0a0a0" stroke-width="1"/>
<rect x="646.20" y="223.4" width="2.4" height="7.0" fill="#dcdcdc" stroke="#989898" stroke-width="0.9"/>
<line x1="650.56" y1="221.0" x2="650.56" y2="236.8" stroke="#888" stroke-width="1"/>
<rect x="649.11" y="223.4" width="2.90" height="7.0" fill="#101010"/>
<line x1="653.71" y1="227.0" x2="653.71" y2="239.6" stroke="#a0a0a0" stroke-width="1"/>
<rect x="652.51" y="230.4" width="2.4" height="1.2" fill="#dcdcdc" stroke="#989898" stroke-width="0.9"/>
<line x1="656.87" y1="228.0" x2="656.87" y2="238.0" stroke="#888" stroke-width="1"/>
<rect x="655.42" y="230.4" width="2.90" height="5.6" fill="#101010"/>
<line x1="660.02" y1="234.0" x2="660.02" y2="262.8" stroke="#888" stroke-width="1"/>
<rect x="658.57" y="236.0" width="2.90" height="23.3" fill="#101010"/>
<line x1="663.18" y1="251.0" x2="663.18" y2="261.0" stroke="#a0a0a0" stroke-width="1"/>
<rect x="661.98" y="253.7" width="2.4" height="5.6" fill="#dcdcdc" stroke="#989898" stroke-width="0.9"/>
<line x1="666.33" y1="238.2" x2="666.33" y2="255.0" stroke="#a0a0a0" stroke-width="1"/>
<rect x="665.13" y="241.7" width="2.4" height="12.0" fill="#dcdcdc" stroke="#989898" stroke-width="0.9"/>
<line x1="669.49" y1="239.0" x2="669.49" y2="257.0" stroke="#888" stroke-width="1"/>
<rect x="668.04" y="241.7" width="2.90" height="13.3" fill="#101010"/>
<line x1="672.64" y1="206.7" x2="672.64" y2="266.3" stroke="#a0a0a0" stroke-width="1"/>
<rect x="671.44" y="223.4" width="2.4" height="31.6" fill="#dcdcdc" stroke="#989898" stroke-width="0.9"/>
<line x1="675.79" y1="215.6" x2="675.79" y2="230.0" stroke="#888" stroke-width="1"/>
<rect x="674.34" y="223.4" width="2.90" height="4.9" fill="#101010"/>
<line x1="678.95" y1="226.0" x2="678.95" y2="248.0" stroke="#888" stroke-width="1"/>
<rect x="677.50" y="228.3" width="2.90" height="18.3" fill="#101010"/>
<line x1="682.10" y1="244.0" x2="682.10" y2="262.8" stroke="#888" stroke-width="1"/>
<rect x="680.65" y="246.6" width="2.90" height="1.4" fill="#101010"/>
<line x1="685.26" y1="244.0" x2="685.26" y2="262.0" stroke="#888" stroke-width="1"/>
<rect x="683.81" y="247.5" width="2.90" height="7.7" fill="#101010"/>
<line x1="688.41" y1="253.0" x2="688.41" y2="270.6" stroke="#888" stroke-width="1"/>
<rect x="686.96" y="255.2" width="2.90" height="12.0" fill="#101010"/>
<line x1="691.57" y1="258.0" x2="691.57" y2="297.5" stroke="#a0a0a0" stroke-width="1"/>
<rect x="690.37" y="260.8" width="2.4" height="6.4" fill="#dcdcdc" stroke="#989898" stroke-width="0.9"/>
<line x1="694.72" y1="258.0" x2="694.72" y2="299.5" stroke="#888" stroke-width="1"/>
<rect x="693.27" y="260.8" width="2.90" height="36.7" fill="#101010"/>
<line x1="697.87" y1="290.4" x2="697.87" y2="311.5" stroke="#a0a0a0" stroke-width="1"/>
<rect x="696.67" y="297.5" width="2.4" height="1.2" fill="#dcdcdc" stroke="#989898" stroke-width="0.9"/>
<line x1="701.03" y1="282.0" x2="701.03" y2="299.0" stroke="#a0a0a0" stroke-width="1"/>
<rect x="699.83" y="293.0" width="2.4" height="4.5" fill="#dcdcdc" stroke="#989898" stroke-width="0.9"/>
<line x1="704.18" y1="291.8" x2="704.18" y2="311.5" stroke="#888" stroke-width="1"/>
<rect x="702.73" y="293.2" width="2.90" height="5.7" fill="#101010"/>
<line x1="707.34" y1="297.0" x2="707.34" y2="327.5" stroke="#888" stroke-width="1"/>
<rect x="705.89" y="298.9" width="2.90" height="18.3" fill="#101010"/>
<line x1="710.49" y1="290.4" x2="710.49" y2="320.0" stroke="#a0a0a0" stroke-width="1"/>
<rect x="709.29" y="296.0" width="2.4" height="21.2" fill="#dcdcdc" stroke="#989898" stroke-width="0.9"/>
<line x1="713.65" y1="287.0" x2="713.65" y2="298.0" stroke="#a0a0a0" stroke-width="1"/>
<rect x="712.45" y="289.0" width="2.4" height="7.0" fill="#dcdcdc" stroke="#989898" stroke-width="0.9"/>
<line x1="716.80" y1="275.0" x2="716.80" y2="291.0" stroke="#a0a0a0" stroke-width="1"/>
<rect x="715.60" y="282.0" width="2.4" height="7.0" fill="#dcdcdc" stroke="#989898" stroke-width="0.9"/>
<line x1="719.95" y1="279.0" x2="719.95" y2="286.0" stroke="#888" stroke-width="1"/>
<rect x="718.50" y="281.3" width="2.90" height="2.7" fill="#101010"/>
<line x1="723.11" y1="259.4" x2="723.11" y2="286.0" stroke="#a0a0a0" stroke-width="1"/>
<rect x="721.91" y="263.7" width="2.4" height="20.3" fill="#dcdcdc" stroke="#989898" stroke-width="0.9"/>
<line x1="726.26" y1="257.3" x2="726.26" y2="266.0" stroke="#a0a0a0" stroke-width="1"/>
<rect x="725.06" y="262.5" width="2.4" height="1.2" fill="#dcdcdc" stroke="#989898" stroke-width="0.9"/>
<line x1="729.42" y1="255.9" x2="729.42" y2="266.0" stroke="#a0a0a0" stroke-width="1"/>
<rect x="728.22" y="262.3" width="2.4" height="1.7" fill="#dcdcdc" stroke="#989898" stroke-width="0.9"/>
<line x1="732.57" y1="260.0" x2="732.57" y2="276.0" stroke="#888" stroke-width="1"/>
<rect x="731.12" y="262.3" width="2.90" height="11.9" fill="#101010"/>
<line x1="735.73" y1="272.0" x2="735.73" y2="284.8" stroke="#888" stroke-width="1"/>
<rect x="734.28" y="274.2" width="2.90" height="2.8" fill="#101010"/>
<line x1="738.88" y1="268.0" x2="738.88" y2="281.0" stroke="#a0a0a0" stroke-width="1"/>
<rect x="737.68" y="277.0" width="2.4" height="2.0" fill="#dcdcdc" stroke="#989898" stroke-width="0.9"/>
<line x1="742.03" y1="275.0" x2="742.03" y2="297.5" stroke="#888" stroke-width="1"/>
<rect x="740.58" y="277.0" width="2.90" height="17.0" fill="#101010"/>
<line x1="745.19" y1="275.0" x2="745.19" y2="296.0" stroke="#a0a0a0" stroke-width="1"/>
<rect x="743.99" y="277.0" width="2.4" height="17.0" fill="#dcdcdc" stroke="#989898" stroke-width="0.9"/>
<line x1="748.34" y1="274.0" x2="748.34" y2="280.0" stroke="#a0a0a0" stroke-width="1"/>
<rect x="747.14" y="277.0" width="2.4" height="1.2" fill="#dcdcdc" stroke="#989898" stroke-width="0.9"/>
<line x1="751.50" y1="270.0" x2="751.50" y2="280.0" stroke="#a0a0a0" stroke-width="1"/>
<rect x="750.30" y="272.0" width="2.4" height="5.7" fill="#dcdcdc" stroke="#989898" stroke-width="0.9"/>
<line x1="754.65" y1="254.0" x2="754.65" y2="274.0" stroke="#a0a0a0" stroke-width="1"/>
<rect x="753.45" y="256.6" width="2.4" height="15.4" fill="#dcdcdc" stroke="#989898" stroke-width="0.9"/>
<line x1="757.81" y1="245.4" x2="757.81" y2="258.0" stroke="#a0a0a0" stroke-width="1"/>
<rect x="756.61" y="255.0" width="2.4" height="1.6" fill="#dcdcdc" stroke="#989898" stroke-width="0.9"/>
<line x1="760.96" y1="253.0" x2="760.96" y2="274.2" stroke="#888" stroke-width="1"/>
<rect x="759.51" y="255.2" width="2.90" height="15.5" fill="#101010"/>
<line x1="764.11" y1="256.0" x2="764.11" y2="272.0" stroke="#a0a0a0" stroke-width="1"/>
<rect x="762.91" y="258.0" width="2.4" height="12.7" fill="#dcdcdc" stroke="#989898" stroke-width="0.9"/>
<line x1="767.27" y1="249.0" x2="767.27" y2="260.0" stroke="#a0a0a0" stroke-width="1"/>
<rect x="766.07" y="251.7" width="2.4" height="6.3" fill="#dcdcdc" stroke="#989898" stroke-width="0.9"/>
<line x1="770.42" y1="242.5" x2="770.42" y2="253.0" stroke="#a0a0a0" stroke-width="1"/>
<rect x="769.22" y="246.0" width="2.4" height="5.7" fill="#dcdcdc" stroke="#989898" stroke-width="0.9"/>
<line x1="773.58" y1="239.7" x2="773.58" y2="249.0" stroke="#888" stroke-width="1"/>
<rect x="772.13" y="245.4" width="2.90" height="2.1" fill="#101010"/>
<line x1="776.73" y1="243.0" x2="776.73" y2="248.0" stroke="#a0a0a0" stroke-width="1"/>
<rect x="775.53" y="245.4" width="2.4" height="1.2" fill="#dcdcdc" stroke="#989898" stroke-width="0.9"/>
<line x1="779.89" y1="224.2" x2="779.89" y2="247.0" stroke="#a0a0a0" stroke-width="1"/>
<rect x="778.69" y="228.5" width="2.4" height="16.9" fill="#dcdcdc" stroke="#989898" stroke-width="0.9"/>
<line x1="783.04" y1="223.5" x2="783.04" y2="232.0" stroke="#888" stroke-width="1"/>
<rect x="781.59" y="228.5" width="2.90" height="1.4" fill="#101010"/>
<line x1="786.19" y1="229.0" x2="786.19" y2="251.7" stroke="#888" stroke-width="1"/>
<rect x="784.74" y="231.3" width="2.90" height="11.2" fill="#101010"/>
<line x1="789.35" y1="232.0" x2="789.35" y2="244.0" stroke="#a0a0a0" stroke-width="1"/>
<rect x="788.15" y="234.0" width="2.4" height="8.5" fill="#dcdcdc" stroke="#989898" stroke-width="0.9"/>
<line x1="792.50" y1="229.9" x2="792.50" y2="285.5" stroke="#888" stroke-width="1"/>
<rect x="791.05" y="234.0" width="2.90" height="16.3" fill="#101010"/>
<line x1="795.66" y1="248.0" x2="795.66" y2="262.3" stroke="#888" stroke-width="1"/>
<rect x="794.21" y="250.3" width="2.90" height="4.9" fill="#101010"/>
<line x1="798.81" y1="253.0" x2="798.81" y2="258.0" stroke="#888" stroke-width="1"/>
<rect x="797.36" y="255.2" width="2.90" height="1.7" fill="#101010"/>
<line x1="8" y1="220.5" x2="961" y2="220.5" stroke="#333" stroke-width="2"/>
<line x1="8" y1="397.4" x2="961" y2="397.4" stroke="#333" stroke-width="2"/>
<line x1="8" y1="573.7" x2="961" y2="573.7" stroke="#333" stroke-width="2"/>
<path d="M801.3 218.9 L814.8 187.9 L830.8 223.7 L846.3 179.4 L862.7 211.8 L886.6 124.5 L899.3 154.9 L924.6 56.3 M916.8 61.1 L924.6 56.3 L930 65.4" fill="none" stroke="#4a4a4a" stroke-width="1.9" stroke-dasharray="1.9 2.6" stroke-linejoin="round"/>
<path d="M808 262.8 L827.1 297.5 L843.2 268.3 L871.4 362.2 L890.1 329.1 L918.1 393.3 M908.6 390.9 L918.1 393.3 L921.7 386.1" fill="none" stroke="#4a4a4a" stroke-width="1.9" stroke-dasharray="1.9 2.6" stroke-linejoin="round"/>
</g>
<g font-size="9.4" fill="#444" stroke="#444" stroke-width="0.3" letter-spacing="0.5">
<text x="971.1" y="37.4" font-size="8.3" font-weight="bold" letter-spacing="0.2">USDT</text>
<text x="968.2" y="58.0">1,200.00</text>
<text x="968.2" y="83.4">950.00</text>
<text x="968.2" y="109.4">750.00</text>
<text x="968.2" y="134.9">590.00</text>
<text x="968.2" y="160.4">465.00</text>
<text x="968.2" y="186.7">365.00</text>
<text x="968.2" y="213.7">285.00</text>
<text x="968.2" y="239.4">225.00</text>
<text x="968.2" y="293.7">135.00</text>
<text x="968.2" y="321.4">105.00</text>
<text x="968.2" y="349.2">81.00</text>
<text x="968.2" y="373.4">65.00</text>
<text x="968.2" y="401.4">50.00</text>
<text x="968.2" y="425.9">40.00</text>
<text x="968.2" y="449.9">32.00</text>
<text x="968.2" y="480.7">24.00</text>
<text x="968.2" y="505.8">19.00</text>
<text x="968.2" y="531.4">15.00</text>
<text x="968.2" y="555.0">12.00</text>
<text x="968.2" y="580.6">9.50</text>
<text x="968.2" y="606.4">7.50</text>
<text x="968.2" y="630.2">6.00</text>
</g>
<rect x="960.8" y="250.4" width="42.4" height="24.2" fill="#0c0c0c"/>
<g font-size="9.4" fill="#e6e6e6" letter-spacing="0.5"><text x="968.2" y="260.3">184.58</text><text x="968.2" y="271.3">5d 14h</text></g>
<g clip-path="url(#taxis)" font-size="9.3" fill="#4a4a4a" text-anchor="middle">
<text x="9.969999999999999" y="657" font-weight="bold" letter-spacing="0.75" fill="#3a3a3a">2021</text>
<text x="92.65" y="657" letter-spacing="0.3" fill="#5a5a5a">Jul</text>
<text x="174.37" y="657" font-weight="bold" letter-spacing="0.75" fill="#3a3a3a">2022</text>
<text x="256.45" y="657" letter-spacing="0.3" fill="#5a5a5a">Jul</text>
<text x="338.37" y="657" font-weight="bold" letter-spacing="0.75" fill="#3a3a3a">2023</text>
<text x="420.15" y="657" letter-spacing="0.3" fill="#5a5a5a">Jul</text>
<text x="503.37" y="657" font-weight="bold" letter-spacing="0.75" fill="#3a3a3a">2024</text>
<text x="584.65" y="657" letter-spacing="0.3" fill="#5a5a5a">Jul</text>
<text x="669.87" y="657" font-weight="bold" letter-spacing="0.75" fill="#3a3a3a">2025</text>
<text x="752.15" y="657" letter-spacing="0.3" fill="#5a5a5a">Jul</text>
<text x="833.87" y="657" font-weight="bold" letter-spacing="0.75" fill="#3a3a3a">2026</text>
<text x="916.15" y="657" letter-spacing="0.3" fill="#5a5a5a">Jul</text>
</g>
<g fill="none" stroke="#161616" stroke-width="2.1" stroke-linecap="round" stroke-linejoin="round">
<path d="M84.6 608.4 C82 614 78 621 74.4 624.9 C71 627.5 69 628.4 66.8 628.7 C63 629.4 60 629.5 58 629.3 C54 628.6 51 627.6 49.1 626.8 C46 625 43.5 623 41.5 621 C39 618 37 615.5 35.8 613.4 C33.5 609.5 32.5 606 32 603.3 C30.5 599 30.3 596 30.3 593.2 C30.3 589 30.4 586 30.7 583 C31 579.5 31.4 576.5 32 574.2 C33 570.5 34 567.7 35.1 565.3 C37 561.5 39 559.3 41.5 557.7 C44.5 555.3 47.5 553.6 50.4 552.6 C54 551.3 58 550.8 61.8 550.7 C65.5 550.8 69 551.3 71.9 552 C75 553 77.5 554.6 79.5 556.4 C82 559 84.3 562 85.8 565.3 C87.2 568.5 88 572 88.4 575.4 C88.9 579.5 89.1 584 89 588.1"/>
<path d="M89.2 589 C90.3 588 91.5 587.8 92.2 588.1 C93.6 588.6 94.4 589.7 94.5 590.6 C94.9 593.5 94.6 596 94.1 598.2 C93.3 600.8 92.2 603 90.9 604.6 C89.3 606.6 87.6 607.7 85.8 608.4"/>
<path d="M90.4 594.2 C90.3 597 89.9 599.5 89 602" stroke-width="1.3"/>
<path d="M34.5 580.2 C36.5 577.8 38.5 576.8 40.8 576.6 C43.5 576.5 46 577.2 48.6 578.4" stroke-width="3.4"/>
<path d="M58.4 579.2 C60.5 577.2 63 576.1 65.8 576 C69 575.9 72 576.8 74.4 578.3 C76.4 579.6 77.8 581.3 78.8 583.6" stroke-width="3.2"/>
<path d="M35.8 584.4 C37.5 583.1 39.3 582.4 41.5 582.3 C43.8 582.3 46 583 47.8 584.1" stroke-width="2.2"/>
<path d="M38.9 587.6 C41 587.6 43.6 587.4 45.9 587" stroke-width="1.4"/>
<path d="M60.5 584.4 C62.5 583.1 64.6 582.4 66.8 582.4 C69.8 582.5 72.2 583.5 74.4 585.3" stroke-width="2.2"/>
<path d="M63 588.1 C66 588.4 69 588.3 71.9 587.8" stroke-width="1.4"/>
<path d="M50.3 583.2 C50.1 586 49.7 588.5 49.1 590.6" stroke-width="1.4"/>
<path d="M45.9 590 C44.3 591.2 43.3 592.6 43.4 593.8 C43.6 595.4 45 596.3 46.6 596.6 C48 596.9 49.2 597.2 50.3 597.2 C53.5 597.4 56.5 597.2 59.2 596.7 C61.4 596.2 62.9 595.2 63.1 593.8 C63.2 592 62.4 590.5 61.1 589.4" stroke-width="2"/>
<path d="M35.8 598.2 C35.9 600.5 36.3 602.6 37 604.6" stroke-width="1.5"/>
<path d="M73.2 591.9 C74.4 594.8 75.2 597.8 75.7 600.8" stroke-width="1.5"/>
<path d="M38.9 604.6 C43.5 602.8 48.5 601.9 54.2 602 C60 602 65 602.8 69.4 603.9 C67.5 606.5 64.5 608.8 61 609.9 C58.5 610.6 56.3 610.7 54.2 610.5 C50 610.2 46.2 609 43 607.3 C41.5 606.5 40 605.6 38.9 604.6 Z" stroke-width="2.2"/>
<path d="M41.5 605.4 C46 604.4 50.5 604 54.2 604 C58.5 604 63 604.5 66.8 605.2" stroke-width="1.2"/>
<path d="M44 613.4 C47.5 614.9 51 615.5 54.2 615.4 C57 615.3 59.6 614.9 61.8 614.1" stroke-width="1.9"/>
<path d="M35.8 621 C35 624 34.5 627 34.2 630 C33.3 636 32.8 643 32.8 649.2 C33.3 654.5 35.3 659.5 38.3 663.6"/>
<path d="M8.2 643 C12 640.6 16 639.2 20.5 638.3 C26 637 31 634.6 34.2 632.8"/>
<path d="M34.2 631.4 C31 637 28 643 24.6 647.8 C21.5 652.5 18.5 657.5 15 661.5 L13.5 662.5"/>
<path d="M32.8 642.4 C29.5 648 25.8 654 21.9 660.1" stroke-width="1.8"/>
<path d="M28 656.7 L28.7 662.9" stroke-width="1.8"/>
<path d="M84.6 616 C84.3 620.5 84.1 625 84.1 628.7 C85.4 633 87 637 88.9 639.6 C91 641.1 93.2 641.8 95.8 642.6 C103 645.8 111 650 116.3 654.7 C120 657.6 122.6 660.6 124.5 663.6"/>
<path d="M83.4 630 C80 636 75.5 643 71.1 649.2 C67.2 655 64.2 659.5 61.6 663.6"/>
<path d="M88.9 639.6 C89.8 643 90.3 646 90.3 649.2 C90.4 654 90.1 658.5 89.6 662.9"/>
<path d="M84.8 642.4 C84.5 645.5 84 649.5 83.4 653.3" stroke-width="1.6"/>
<path d="M69.8 662.9 L75.9 656 L86.2 662.9"/>
</g>
<text x="112.94 142.13 160.68 168.59 176.85 194.63 210.52 229.93 248.71 260.85 272.07" y="599.1" font-size="30" fill="#303030" transform="translate(0,599.1) scale(1,1.06) translate(0,-599.1)">@ali_charts</text>
<path d="M147.6 613.3 H155.6 L179.2 644 H171 Z" fill="none" stroke="#1f1f1f" stroke-width="2" stroke-linejoin="miter"/>
<path d="M177.5 613.4 L148.2 644" fill="none" stroke="#1f1f1f" stroke-width="2"/>
<rect x="206.3" y="615.8" width="38.8" height="25.9" rx="7" ry="7" fill="none" stroke="#1f1f1f" stroke-width="2.3"/>
<path d="M221.6 623.6 L232.6 629 L221.6 634.6 Z" fill="none" stroke="#1f1f1f" stroke-width="2.1" stroke-linejoin="round"/>
<g fill="#1c1c1c">
<path d="M9.3 681.5 H18.3 V692.4 H14 V685.6 H9.3 Z"/>
<circle cx="22.2" cy="683.4" r="2.05"/>
<path d="M26.7 681.5 H32 L28 692.4 H23.4 Z"/>
</g>
<text x="38" y="692.5" font-size="15.5" font-weight="bold" fill="#1c1c1c" textLength="93" lengthAdjust="spacingAndGlyphs">TradingView</text>
</svg></body></html>
